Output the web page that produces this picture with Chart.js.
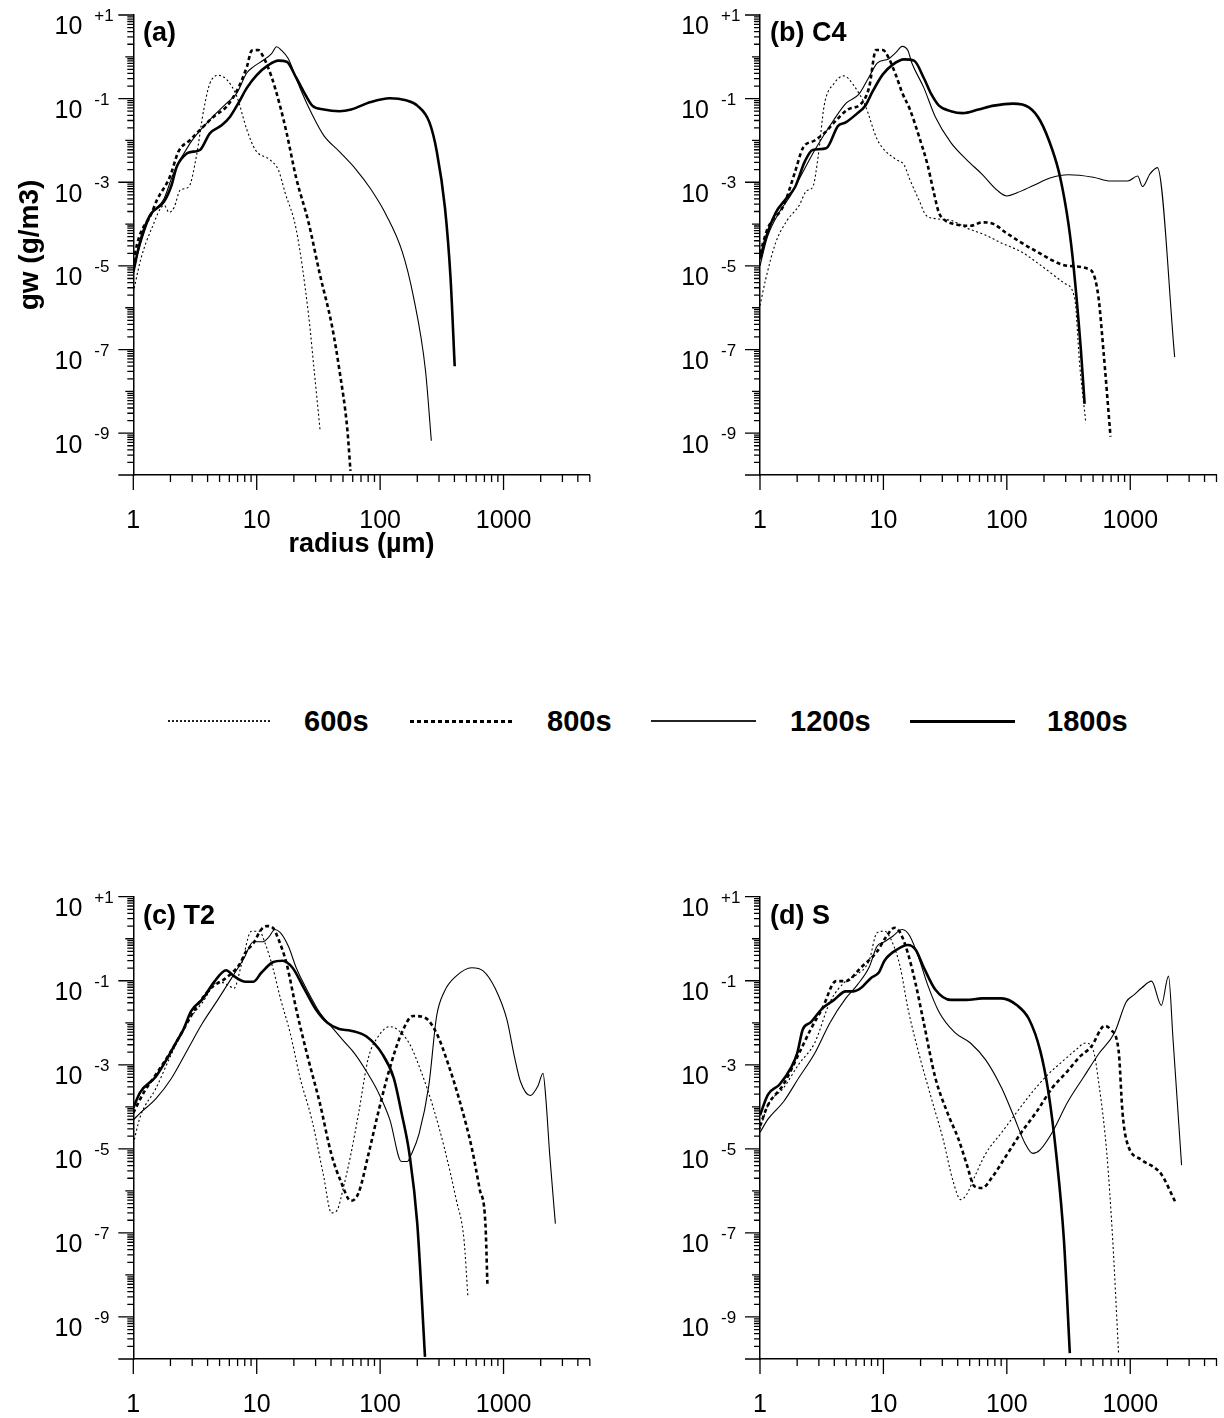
<!DOCTYPE html>
<html>
<head>
<meta charset="utf-8">
<script src="https://cdn.jsdelivr.net/npm/chart.js@4.4.1/dist/chart.umd.min.js"></script>
<style>
  body { margin: 0; background: #fff; width: 1224px; height: 1418px; position: relative; overflow: hidden;
         font-family: "Liberation Sans", Arial, Helvetica, sans-serif; color: #000; }
  .panel { position: absolute; width: 612px; }
  .tag { position: absolute; font-weight: bold; font-size: 27px; line-height: 27px; white-space: nowrap; }
  .leg-line { position: absolute; }
  .leg-text { position: absolute; font-weight: bold; font-size: 29px; line-height: 30px; }
</style>
</head>
<body>
<div class="panel" style="left:0;top:0;height:580px"><canvas id="ca"></canvas></div>
<div class="panel" style="left:612px;top:0;height:580px"><canvas id="cb"></canvas></div>
<div class="panel" style="left:0;top:880px;height:538px"><canvas id="cc"></canvas></div>
<div class="panel" style="left:612px;top:880px;height:538px"><canvas id="cd"></canvas></div>
<div id="tags"></div>
<div id="legend"></div>
<script>
// series names and panel names
const timeLabels = ['600s', '800s', '1200s', '1800s'];
const panelNames = ['(a)', '(b) C4', '(c) T2', '(d) S'];

// axis ticks
const xTicks = [1, 10, 100, 1000];
const xMin = 1, xMax = 5000;
const yMin = 1e-10, yMax = 10;
const yExponents = [1, -1, -3, -5, -7, -9];

// (a) radius (um) / gw (g/m3)
const r_a600 = [1, 1.15, 1.41, 1.78, 1.95, 2.14, 2.4, 2.82, 3.24, 3.72, 4.17, 4.9, 5.75, 6.92, 8.32, 9.77, 12.9, 15.0, 17.0, 20.9, 26.3, 29.2, 32.6];
const gw_a600 = [2.3e-6, 1.45e-5, 7.9e-5, 2.8e-4, 1.9e-4, 2.5e-4, 6.5e-4, 7.8e-4, 4.1e-3, 5.4e-2, 0.23, 0.36, 0.28, 0.11, 1.8e-2, 5.9e-3, 3.4e-3, 1.95e-3, 5.6e-4, 7.4e-5, 6.8e-7, 3.2e-8, 1.2e-9];
const r_a800 = [1, 1.07, 1.15, 1.38, 1.55, 1.98, 2.32, 2.88, 3.47, 4.47, 5.71, 7.08, 8.32, 9.12, 10.3, 11.3, 13.2, 15.5, 17.5, 20.9, 26.3, 32.4, 40.7, 46.8, 54.2, 57.5];
const gw_a800 = [1.26e-5, 3.2e-5, 6.3e-5, 1.6e-4, 3.7e-4, 1.35e-3, 5.4e-3, 1.02e-2, 1.78e-2, 3.7e-2, 6.5e-2, 0.178, 0.575, 1.41, 1.45, 1.0, 0.33, 6.5e-2, 1.48e-2, 1.26e-3, 1.1e-4, 6.5e-6, 3.7e-7, 3.2e-8, 1.26e-9, 1.26e-10];
const r_a1200 = [1, 1.15, 1.38, 1.77, 2.11, 2.88, 4.17, 5.71, 6.89, 8.3, 9.38, 11.3, 13.2, 14.5, 15.8, 18.0, 19.5, 22.6, 28.2, 35.0, 46.8, 63.1, 83.9, 112, 151, 186, 233, 260];
const gw_a1200 = [7.9e-6, 3.5e-5, 1.6e-4, 4.0e-4, 1.6e-3, 8.5e-3, 3.1e-2, 7.8e-2, 0.135, 0.41, 0.575, 0.83, 1.2, 1.74, 1.45, 0.91, 0.52, 0.17, 4.1e-2, 1.3e-2, 5.4e-3, 2.1e-3, 6.9e-4, 1.66e-4, 2.2e-5, 1.86e-6, 3.2e-8, 6.6e-10];
const r_a1800 = [1, 1.14, 1.37, 1.77, 2.04, 2.24, 2.71, 3.06, 3.47, 4.17, 5.2, 6.08, 7.1, 8.3, 10, 12.4, 15, 17.5, 20.9, 24.3, 28.2, 35, 46.8, 58.3, 83.9, 120, 162, 200, 251, 288, 335, 372, 402];
const gw_a1800 = [7.1e-6, 4.0e-5, 1.66e-4, 3.4e-4, 8.5e-4, 2.3e-3, 4.9e-3, 5.4e-3, 5.9e-3, 1.48e-2, 2.3e-2, 3.7e-2, 7.8e-2, 0.178, 0.363, 0.63, 0.81, 0.76, 0.316, 0.138, 6.8e-2, 5.5e-2, 5.0e-2, 5.5e-2, 8.3e-2, 0.102, 9.1e-2, 6.8e-2, 2.7e-2, 5.4e-3, 2.5e-4, 5.2e-6, 4.0e-8];

// (b) C4
const r_b600 = [1, 1.11, 1.34, 1.66, 2.07, 2.39, 2.67, 2.98, 3.31, 3.98, 4.79, 5.73, 7.13, 8.85, 10.2, 12.7, 14.7, 16.4, 19.7, 22.0, 26.3, 35.2, 47.1, 67.6, 90.8, 130, 191, 295, 355, 389, 437];
const gw_b600 = [1.12e-6, 4.7e-6, 3.6e-5, 1.23e-4, 2.75e-4, 6.3e-4, 7.6e-4, 4.8e-3, 6.8e-2, 0.23, 0.35, 0.21, 6.8e-2, 1.1e-2, 5.9e-3, 3.5e-3, 2.6e-3, 1.15e-3, 3.4e-4, 1.66e-4, 1.35e-4, 1.23e-4, 8.1e-5, 5.4e-5, 3.5e-5, 2.2e-5, 1.0e-5, 3.8e-6, 1.66e-6, 4.5e-8, 1.74e-9];
const r_b800 = [1, 1.16, 1.55, 1.92, 2.22, 2.77, 3.31, 4.13, 5.13, 6.61, 7.66, 8.71, 9.89, 11.0, 12.7, 14.2, 16.4, 19.7, 22.8, 25.4, 28.2, 31.6, 38.0, 50.7, 63.1, 78.5, 97.7, 166, 316, 479, 550, 603, 692];
const gw_b800 = [2.0e-5, 8.1e-5, 2.75e-4, 1.74e-3, 6.5e-3, 1.0e-2, 1.48e-2, 3.0e-2, 5.5e-2, 7.6e-2, 0.186, 1.45, 1.45, 0.955, 0.347, 0.138, 5.5e-2, 1.1e-2, 2.6e-3, 6.3e-4, 1.86e-4, 1.23e-4, 1.0e-4, 9.1e-5, 1.1e-4, 1.0e-4, 6.3e-5, 2.4e-5, 1.0e-5, 7.9e-6, 2.0e-6, 1.15e-7, 8.3e-10];
const r_b1200 = [1, 1.15, 1.41, 1.78, 2.14, 2.82, 3.98, 5.01, 6.31, 7.59, 8.91, 11.0, 12.6, 14.2, 15.8, 17.0, 21.2, 26.3, 35.2, 47.1, 63.1, 84.3, 100, 121, 166, 224, 316, 501, 692, 955, 1148, 1259, 1445, 1660, 2291];
const gw_b1200 = [1e-5, 5.0e-5, 1.78e-4, 5.0e-4, 1.41e-3, 6.3e-3, 3.16e-2, 7.9e-2, 0.126, 0.316, 0.71, 0.89, 1.26, 1.78, 1.41, 0.71, 0.186, 3.7e-2, 8.9e-3, 3.5e-3, 1.55e-3, 6.3e-4, 4.7e-4, 5.6e-4, 8.5e-4, 1.26e-3, 1.51e-3, 1.32e-3, 1.07e-3, 1.07e-3, 1.41e-3, 7.9e-4, 1.58e-3, 2.24e-3, 6.6e-8];
const r_b1800 = [1, 1.11, 1.34, 1.6, 1.92, 2.31, 2.67, 3.44, 4.29, 4.95, 6.17, 7.13, 8.24, 9.89, 11.9, 14.7, 17.7, 21.2, 24.5, 28.2, 35.2, 43.9, 58.9, 78.5, 112, 151, 186, 234, 269, 316, 347, 398, 427];
const gw_b1800 = [1.45e-5, 4.5e-5, 1.86e-4, 3.8e-4, 7.6e-4, 3.16e-3, 5.9e-3, 6.5e-3, 2.24e-2, 2.7e-2, 4.5e-2, 6.8e-2, 0.155, 0.38, 0.65, 0.87, 0.81, 0.316, 0.126, 6.8e-2, 5.0e-2, 4.5e-2, 5.5e-2, 6.8e-2, 7.6e-2, 6.2e-2, 3.0e-2, 5.9e-3, 1.41e-3, 1.0e-4, 1.0e-5, 1.0e-7, 5.0e-9];

// (c) T2
const r_c600 = [1, 1.14, 1.52, 2.04, 2.73, 3.65, 4.89, 5.86, 6.53, 7.55, 9.06, 10.5, 11.7, 13.5, 15.6, 18.7, 22.5, 28.0, 34.8, 40.3, 44.9, 50.1, 57.9, 67.0, 80.4, 96.4, 120, 139, 173, 215, 267, 331, 413, 479, 514];
const gw_c600 = [1.32e-5, 5.9e-5, 2.7e-4, 1.82e-3, 1.0e-2, 3.1e-2, 9.5e-2, 7.9e-2, 6.6e-2, 0.25, 1.51, 1.51, 0.78, 0.204, 3.7e-2, 5.6e-3, 4.8e-4, 4.9e-5, 2.3e-6, 3.0e-7, 3.5e-7, 1.12e-6, 7.4e-6, 7.2e-5, 1.48e-3, 4.7e-3, 8.1e-3, 6.8e-3, 3.16e-3, 6.9e-4, 1.05e-4, 1.07e-5, 6.3e-7, 6.5e-8, 3.1e-9];
const r_c800 = [1, 1.22, 1.52, 2.04, 2.54, 3.16, 4.23, 5.65, 7.29, 8.13, 9.4, 10.9, 12.1, 13.5, 15.1, 17.5, 20.9, 26.0, 32.4, 40.3, 48.3, 57.9, 67.0, 80.4, 96.4, 120, 149, 185, 231, 287, 357, 445, 552, 640, 713, 741];
const gw_c800 = [7.2e-5, 2.24e-4, 5.8e-4, 2.2e-3, 6.8e-3, 2.1e-2, 6.6e-2, 0.117, 0.25, 0.48, 0.78, 1.66, 2.0, 1.82, 0.93, 0.25, 2.1e-2, 1.48e-3, 1.26e-4, 7.4e-6, 1.62e-6, 5.8e-7, 9.1e-7, 7.4e-6, 7.2e-5, 8.5e-4, 5.6e-3, 1.45e-2, 1.32e-2, 5.6e-3, 1.02e-3, 1.26e-4, 1.07e-5, 1.12e-6, 1.66e-7, 5.5e-9];
const r_c1200 = [1, 1.14, 1.52, 2.04, 2.73, 3.65, 4.89, 6.53, 7.83, 9.4, 11.3, 12.6, 14.0, 15.6, 18.1, 20.9, 26.0, 32.4, 40.3, 50.1, 62.4, 77.6, 96.4, 120, 149, 166, 179, 207, 248, 287, 331, 413, 552, 687, 855, 1064, 1230, 1371, 1644, 1905, 2089, 2203, 2366, 2630];
const gw_c1200 = [4.9e-5, 7.2e-5, 1.55e-4, 4.8e-4, 2.2e-3, 1.0e-2, 3.7e-2, 0.141, 0.33, 0.85, 0.85, 1.12, 1.66, 1.38, 0.65, 0.204, 5.5e-2, 1.74e-2, 8.1e-3, 3.8e-3, 1.82e-3, 6.9e-4, 2.24e-4, 4.9e-5, 5.0e-6, 5.0e-6, 7.4e-6, 2.3e-5, 3.2e-4, 1.45e-2, 5.5e-2, 0.129, 0.204, 0.17, 6.6e-2, 1.2e-2, 1.48e-3, 4.0e-4, 1.86e-4, 3.2e-4, 6.3e-4, 1.55e-4, 7.4e-6, 1.66e-7];
const r_c1800 = [1, 1.14, 1.52, 1.9, 2.19, 2.54, 2.94, 3.65, 4.54, 5.65, 6.53, 8.13, 9.4, 10.9, 13.5, 16.2, 19.5, 24.2, 30.1, 37.4, 46.6, 57.9, 77.6, 104, 129, 149, 173, 200, 231];
const gw_c1800 = [9.5e-5, 2.24e-4, 5.2e-4, 1.48e-3, 3.16e-3, 6.8e-3, 1.9e-2, 3.7e-2, 9.5e-2, 0.178, 0.129, 9.5e-2, 9.5e-2, 0.155, 0.275, 0.3, 0.204, 6.6e-2, 2.1e-2, 1.0e-2, 7.1e-3, 6.5e-3, 4.7e-3, 1.82e-3, 4.8e-4, 7.2e-5, 7.4e-6, 1.66e-7, 1.12e-10];

// (d) S
const r_d600 = [1, 1.16, 1.55, 2.07, 2.77, 3.7, 4.95, 6.17, 7.66, 8.85, 10.2, 11.9, 13.7, 15.8, 19.7, 24.5, 30.5, 36.6, 42.3, 47.1, 54.6, 67.6, 90.8, 121, 162, 217, 290, 361, 433, 501, 558, 646, 721, 804];
const gw_d600 = [2.95e-5, 1.1e-4, 2.8e-4, 1.05e-3, 3.3e-3, 3.16e-2, 9.8e-2, 0.145, 0.3, 1.38, 1.51, 0.78, 0.209, 2.2e-2, 1.55e-3, 1.58e-4, 1.66e-5, 1.74e-6, 6.2e-7, 8.1e-7, 2.1e-6, 7.8e-6, 2.45e-5, 7.6e-5, 2.3e-4, 6.0e-4, 1.29e-3, 2.24e-3, 3.3e-3, 2.24e-3, 3.4e-4, 7.8e-6, 6.9e-8, 1.38e-10];
const r_d800 = [1, 1.16, 1.55, 2.07, 2.57, 3.2, 4.13, 4.95, 6.61, 8.85, 10.6, 12.3, 13.7, 15.8, 18.3, 21.2, 26.3, 32.8, 40.7, 47.1, 54.6, 63.1, 75.9, 97.7, 131, 174, 233, 312, 389, 483, 622, 692, 804, 865, 929, 1242, 1549, 1786, 2307];
const gw_d800 = [3.5e-5, 1.1e-4, 3.4e-4, 1.86e-3, 6.9e-3, 2.2e-2, 9.8e-2, 9.8e-2, 0.209, 0.49, 1.15, 1.82, 1.38, 0.447, 8.1e-2, 1.02e-2, 5.0e-4, 7.6e-5, 1.66e-5, 4.5e-6, 1.29e-6, 1.17e-6, 2.1e-6, 6.5e-6, 2.45e-5, 7.6e-5, 2.8e-4, 7.2e-4, 1.55e-3, 2.7e-3, 8.5e-3, 6.9e-3, 2.24e-3, 7.6e-5, 1.66e-5, 5.4e-6, 3.7e-6, 2.5e-6, 5.6e-7];
const r_d1200 = [1, 1.16, 1.55, 2.07, 2.77, 3.7, 4.95, 6.17, 7.66, 8.85, 10.2, 11.9, 14.2, 16.4, 19.7, 22.8, 28.3, 38.0, 50.7, 67.6, 90.8, 113, 140, 162, 186, 233, 312, 417, 558, 746, 929, 1072, 1242, 1489, 1786, 2042, 2223, 2606];
const gw_d1200 = [2.45e-5, 5.1e-5, 1.32e-4, 5.0e-4, 1.86e-3, 1.02e-2, 3.8e-2, 8.1e-2, 0.209, 0.65, 0.85, 1.15, 1.66, 1.15, 0.3, 8.1e-2, 1.78e-2, 5.8e-3, 3.3e-3, 1.29e-3, 2.8e-4, 6.3e-5, 1.38e-5, 7.8e-6, 9.5e-6, 2.45e-5, 1.32e-4, 5.0e-4, 1.86e-3, 5.8e-3, 3.16e-2, 4.6e-2, 6.8e-2, 9.8e-2, 2.6e-2, 0.129, 4.0e-3, 4.1e-6];
const r_d1800 = [1, 1.16, 1.44, 1.79, 2.0, 2.22, 2.57, 3.2, 3.98, 4.95, 5.73, 6.61, 7.94, 9.18, 10.2, 12.7, 15.8, 18.3, 21.2, 26.3, 35.2, 47.1, 63.1, 90.8, 121, 151, 186, 217, 251, 290, 324];
const gw_d1800 = [6.3e-5, 1.95e-4, 3.4e-4, 8.7e-4, 1.86e-3, 6.9e-3, 1.02e-2, 2.2e-2, 3.5e-2, 5.6e-2, 5.6e-2, 6.8e-2, 0.117, 0.158, 0.3, 0.54, 0.71, 0.54, 0.209, 6.2e-2, 3.5e-2, 3.5e-2, 3.8e-2, 3.8e-2, 2.6e-2, 1.23e-2, 2.24e-3, 2.3e-4, 7.8e-6, 6.9e-8, 1.38e-10];

// line styles per time
const lineWidths = [1.1, 2.6, 1.1, 2.6];
const lineDashes = [[2, 2.5], [4, 3], [], []];

const FONT = '"Liberation Sans", Arial, Helvetica, sans-serif';
Chart.defaults.font.family = FONT;
Chart.defaults.color = '#000';

// minor/major tick marks and the raised exponents of the y labels
const axisDecor = {
  id: 'axisDecor',
  afterDraw(chart) {
    const ctx = chart.ctx;
    const xs = chart.scales.x, ys = chart.scales.y;
    const left = chart.chartArea.left, bottom = chart.chartArea.bottom;
    ctx.save();
    ctx.strokeStyle = '#000';
    ctx.lineWidth = 1.3;
    ctx.beginPath();
    for (let k = -10; k <= 1; k++) {
      const y = ys.getPixelForValue(Math.pow(10, k));
      const len = (k % 2 !== 0 || k === -10) ? 15 : 8;
      ctx.moveTo(left - len, y); ctx.lineTo(left, y);
      if (k < 1) {
        for (let m = 2; m < 10; m++) {
          const ym = ys.getPixelForValue(m * Math.pow(10, k));
          ctx.moveTo(left - 6, ym); ctx.lineTo(left, ym);
        }
      }
    }
    for (let k = 0; k <= 3; k++) {
      const x = xs.getPixelForValue(Math.pow(10, k));
      ctx.moveTo(x, bottom); ctx.lineTo(x, bottom + 15);
      for (let m = 2; m < 10; m++) {
        const v = m * Math.pow(10, k);
        if (v > xMax) break;
        const xm = xs.getPixelForValue(v);
        ctx.moveTo(xm, bottom); ctx.lineTo(xm, bottom + 7);
      }
    }
    ctx.stroke();
    ctx.fillStyle = '#000';
    ctx.font = '17px ' + FONT;
    ctx.textAlign = 'left';
    ctx.textBaseline = 'middle';
    yExponents.forEach(k => {
      const y = ys.getPixelForValue(Math.pow(10, k));
      ctx.fillText((k > 0 ? '+' : '') + k, left - 39, y + 1.5);
    });
    ctx.restore();
  }
};

function makeChart(p) {
  const datasets = p.series.map((s, i) => ({
    label: timeLabels[i],
    data: s[0].map((r, j) => ({ x: r, y: s[1][j] })),
    borderColor: '#000',
    borderWidth: lineWidths[i],
    borderDash: lineDashes[i],
    pointRadius: 0,
    showLine: true,
    fill: false,
    cubicInterpolationMode: 'monotone'
  }));

  new Chart(document.getElementById(p.id), {
    type: 'scatter',
    data: { datasets: datasets },
    plugins: [axisDecor],
    options: {
      responsive: true,
      maintainAspectRatio: false,
      animation: false,
      layout: { padding: { left: 0, top: p.top, right: p.right, bottom: 0 } },
      plugins: { legend: { display: false }, tooltip: { enabled: false } },
      scales: {
        x: {
          type: 'logarithmic',
          min: xMin,
          max: xMax,
          grid: { display: false, drawTicks: false },
          border: { display: true, color: '#000', width: 1.5 },
          afterBuildTicks: scale => { scale.ticks = xTicks.map(v => ({ value: v })); },
          afterFit: scale => {
            scale.height = p.axisH;
            scale.paddingLeft = 0; scale.paddingRight = 0;
          },
          ticks: {
            autoSkip: false, maxRotation: 0, padding: 34,
            font: { size: 25, lineHeight: 1 },
            callback: v => String(v)
          },
          title: {
            display: p.xTitle, text: 'radius (µm)',
            font: { size: 27, weight: 'bold', lineHeight: 1.2 },
            padding: { top: 0, bottom: 19 }
          }
        },
        y: {
          type: 'logarithmic',
          min: yMin,
          max: yMax,
          grid: { display: false, drawTicks: false },
          border: { display: true, color: '#000', width: 1.5 },
          afterBuildTicks: scale => {
            const t = [];
            for (let k = -10; k <= 1; k++) t.push({ value: Math.pow(10, k) });
            scale.ticks = t;
          },
          afterFit: scale => {
            scale.width = p.left;
            scale.paddingTop = 0; scale.paddingBottom = 0;
          },
          ticks: {
            autoSkip: false, padding: 51, labelOffset: 12.5,
            font: { size: 25, lineHeight: 1 },
            callback: v => (Math.abs(Math.round(Math.log10(v))) % 2 === 1 ? '10' : '')
          },
          title: {
            display: p.yTitle, text: 'gw (g/m3)',
            font: { size: 28, weight: 'bold', lineHeight: 1.2 },
            padding: { top: 13, bottom: 0 }
          }
        }
      }
    }
  });
}

const panels = [
  { id: 'ca', left: 133.3, right: 22.2, top: 15, axisH: 105, xTitle: true, yTitle: true,
    series: [[r_a600, gw_a600], [r_a800, gw_a800], [r_a1200, gw_a1200], [r_a1800, gw_a1800]] },
  { id: 'cb', left: 148, right: 7.5, top: 15, axisH: 105, xTitle: false, yTitle: false,
    series: [[r_b600, gw_b600], [r_b800, gw_b800], [r_b1200, gw_b1200], [r_b1800, gw_b1800]] },
  { id: 'cc', left: 133.3, right: 22.2, top: 16.7, axisH: 59, xTitle: false, yTitle: false,
    series: [[r_c600, gw_c600], [r_c800, gw_c800], [r_c1200, gw_c1200], [r_c1800, gw_c1800]] },
  { id: 'cd', left: 148, right: 7.5, top: 16.7, axisH: 59, xTitle: false, yTitle: false,
    series: [[r_d600, gw_d600], [r_d800, gw_d800], [r_d1200, gw_d1200], [r_d1800, gw_d1800]] }
];
panels.forEach(makeChart);

// panel tags
const tagPos = [[143, 19], [770, 19], [143, 902], [770, 902]];
const tags = document.getElementById('tags');
panelNames.forEach((n, i) => {
  const d = document.createElement('div');
  d.className = 'tag';
  d.style.left = tagPos[i][0] + 'px';
  d.style.top = tagPos[i][1] + 'px';
  d.textContent = n;
  tags.appendChild(d);
});

// legend
const legLines = [[168, 270], [410, 514], [651, 756], [910, 1015]];
const legTextX = [304, 547, 790, 1047];
const legY = 721;
const legStyles = [
  'height:1.5px;background:repeating-linear-gradient(90deg,#222 0 2px,transparent 2px 4px)',
  'height:3px;background:repeating-linear-gradient(90deg,#000 0 4px,transparent 4px 7px)',
  'height:1.3px;background:#222',
  'height:3px;background:#000'
];
const legend = document.getElementById('legend');
timeLabels.forEach((t, i) => {
  const l = document.createElement('div');
  l.className = 'leg-line';
  l.style.cssText = legStyles[i];
  l.style.left = legLines[i][0] + 'px';
  l.style.width = (legLines[i][1] - legLines[i][0]) + 'px';
  l.style.top = (legY - (i % 2 ? 1.5 : 0.75)) + 'px';
  legend.appendChild(l);
  const s = document.createElement('div');
  s.className = 'leg-text';
  s.style.left = legTextX[i] + 'px';
  s.style.top = (legY - 15) + 'px';
  s.textContent = t;
  legend.appendChild(s);
});
</script>
</body>
</html>
